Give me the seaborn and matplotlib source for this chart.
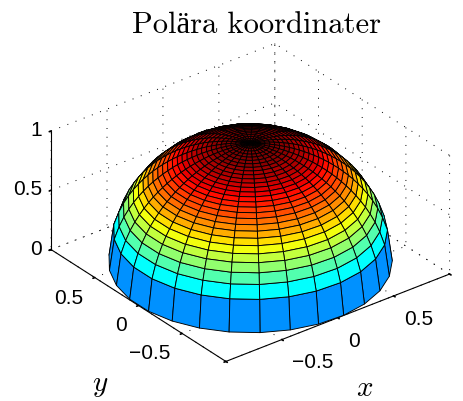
import matplotlib
matplotlib.use("Agg")
import matplotlib.pyplot as plt
import numpy as np
import seaborn as sns
from matplotlib.colors import LinearSegmentedColormap

# values
RING_RADII = [0, .034, .069, .103, .138, .172, .207, .241, .276, .310,
              .345, .379, .414, .448, .483, .517, .552, .586, .621, .655,
              .690, .724, .759, .793, .828, .862, .897, .931, .966, 1]
RING_HEIGHTS = [1, .999, .998, .995, .990, .985, .978, .970, .961, .951,
                .939, .925, .910, .894, .876, .856, .834, .810, .784, .755,
                .724, .690, .651, .609, .561, .507, .443, .365, .260, 0]
SECTOR_ANGLES = [0, 12.4, 24.8, 37.2, 49.7, 62.1, 74.5, 86.9, 99.3, 111.7,
                 124.1, 136.6, 149.0, 161.4, 173.8, 186.2, 198.6, 211.0, 223.4, 235.9,
                 248.3, 260.7, 273.1, 285.5, 297.9, 310.3, 322.8, 335.2, 347.6, 360]
XY_TICKS = [-1, -0.5, 0, 0.5, 1]
XY_LABELS = ["", "\u22120.5", "0", "0.5", ""]
Z_TICKS = [0, 0.5, 1]
Z_LABELS = ["0", "0.5", "1"]
TITLE = "Polära koordinater"

sns.set_theme(style="white")
plt.rcParams["font.family"] = ["Liberation Sans", "DejaVu Sans"]
plt.rcParams["mathtext.fontset"] = "cm"

# matlab's jet, a bit different from the matplotlib one
jet = LinearSegmentedColormap.from_list("matlab_jet", [
    (0, (0, 0, 0.5)), (0.125, (0, 0, 1)), (0.375, (0, 1, 1)),
    (0.625, (1, 1, 0)), (0.875, (1, 0, 0)), (1, (0.5, 0, 0))], N=256)

r = np.array(RING_RADII)
theta = np.radians(SECTOR_ANGLES)
height = np.array(RING_HEIGHTS)

X = np.outer(r, np.cos(theta))
Y = np.outer(r, np.sin(theta))
Z = np.outer(height, np.ones(len(theta)))
colors = jet(np.minimum((np.floor(Z * 64) + 1) / 64, 1))

fig = plt.figure(figsize=(4.63, 4.01), dpi=100)
ax = fig.add_axes([0.029, -0.0185, 1, 1], projection="3d", proj_type="ortho")
ax.view_init(elev=30, azim=-128)
ax.set_box_aspect((2, 2, 0.965), zoom=1.027)

ax.plot_surface(X, Y, Z, rstride=1, cstride=1, facecolors=colors, shade=False,
                edgecolor="black", linewidth=0.65, antialiased=True)

ax.set_xlim(-1, 1, view_margin=0)
ax.set_ylim(-1, 1, view_margin=0)
ax.set_zlim(0, 1, view_margin=0)
ax.set_xticks(XY_TICKS, XY_LABELS, ha="left")
ax.set_yticks(XY_TICKS, XY_LABELS, ha="right")
ax.set_zticks(Z_TICKS, Z_LABELS, ha="right", va="center")
ax.tick_params(labelsize=15, colors="black")
ax.xaxis.set_tick_params(pad=1)
ax.yaxis.set_tick_params(pad=0)
ax.zaxis.set_tick_params(pad=-4.5)

for axis in (ax.xaxis, ax.yaxis, ax.zaxis):
    axis.pane.set_visible(False)
    axis.line.set_color("black")
    axis.line.set_linewidth(0.8)
    axis._axinfo["grid"].update(color="black", linewidth=0.7, linestyle=(0, (1, 8)))
    axis._axinfo["tick"].update(inward_factor=0.1, outward_factor=0)
ax.grid(True)

ax.set_title(TITLE, family=["cmr10", "Liberation Serif"], fontsize=22, color="black",
             x=0.528, y=0.995)
ax.text2D(365 / 463, 1 - 388 / 401, "$x$", transform=fig.transFigure, fontsize=21,
          ha="center", va="center", color="black")
ax.text2D(100 / 463, 1 - 385 / 401, "$y$", transform=fig.transFigure, fontsize=21,
          ha="center", va="center", color="black")

fig.savefig("out.png", dpi=100)
